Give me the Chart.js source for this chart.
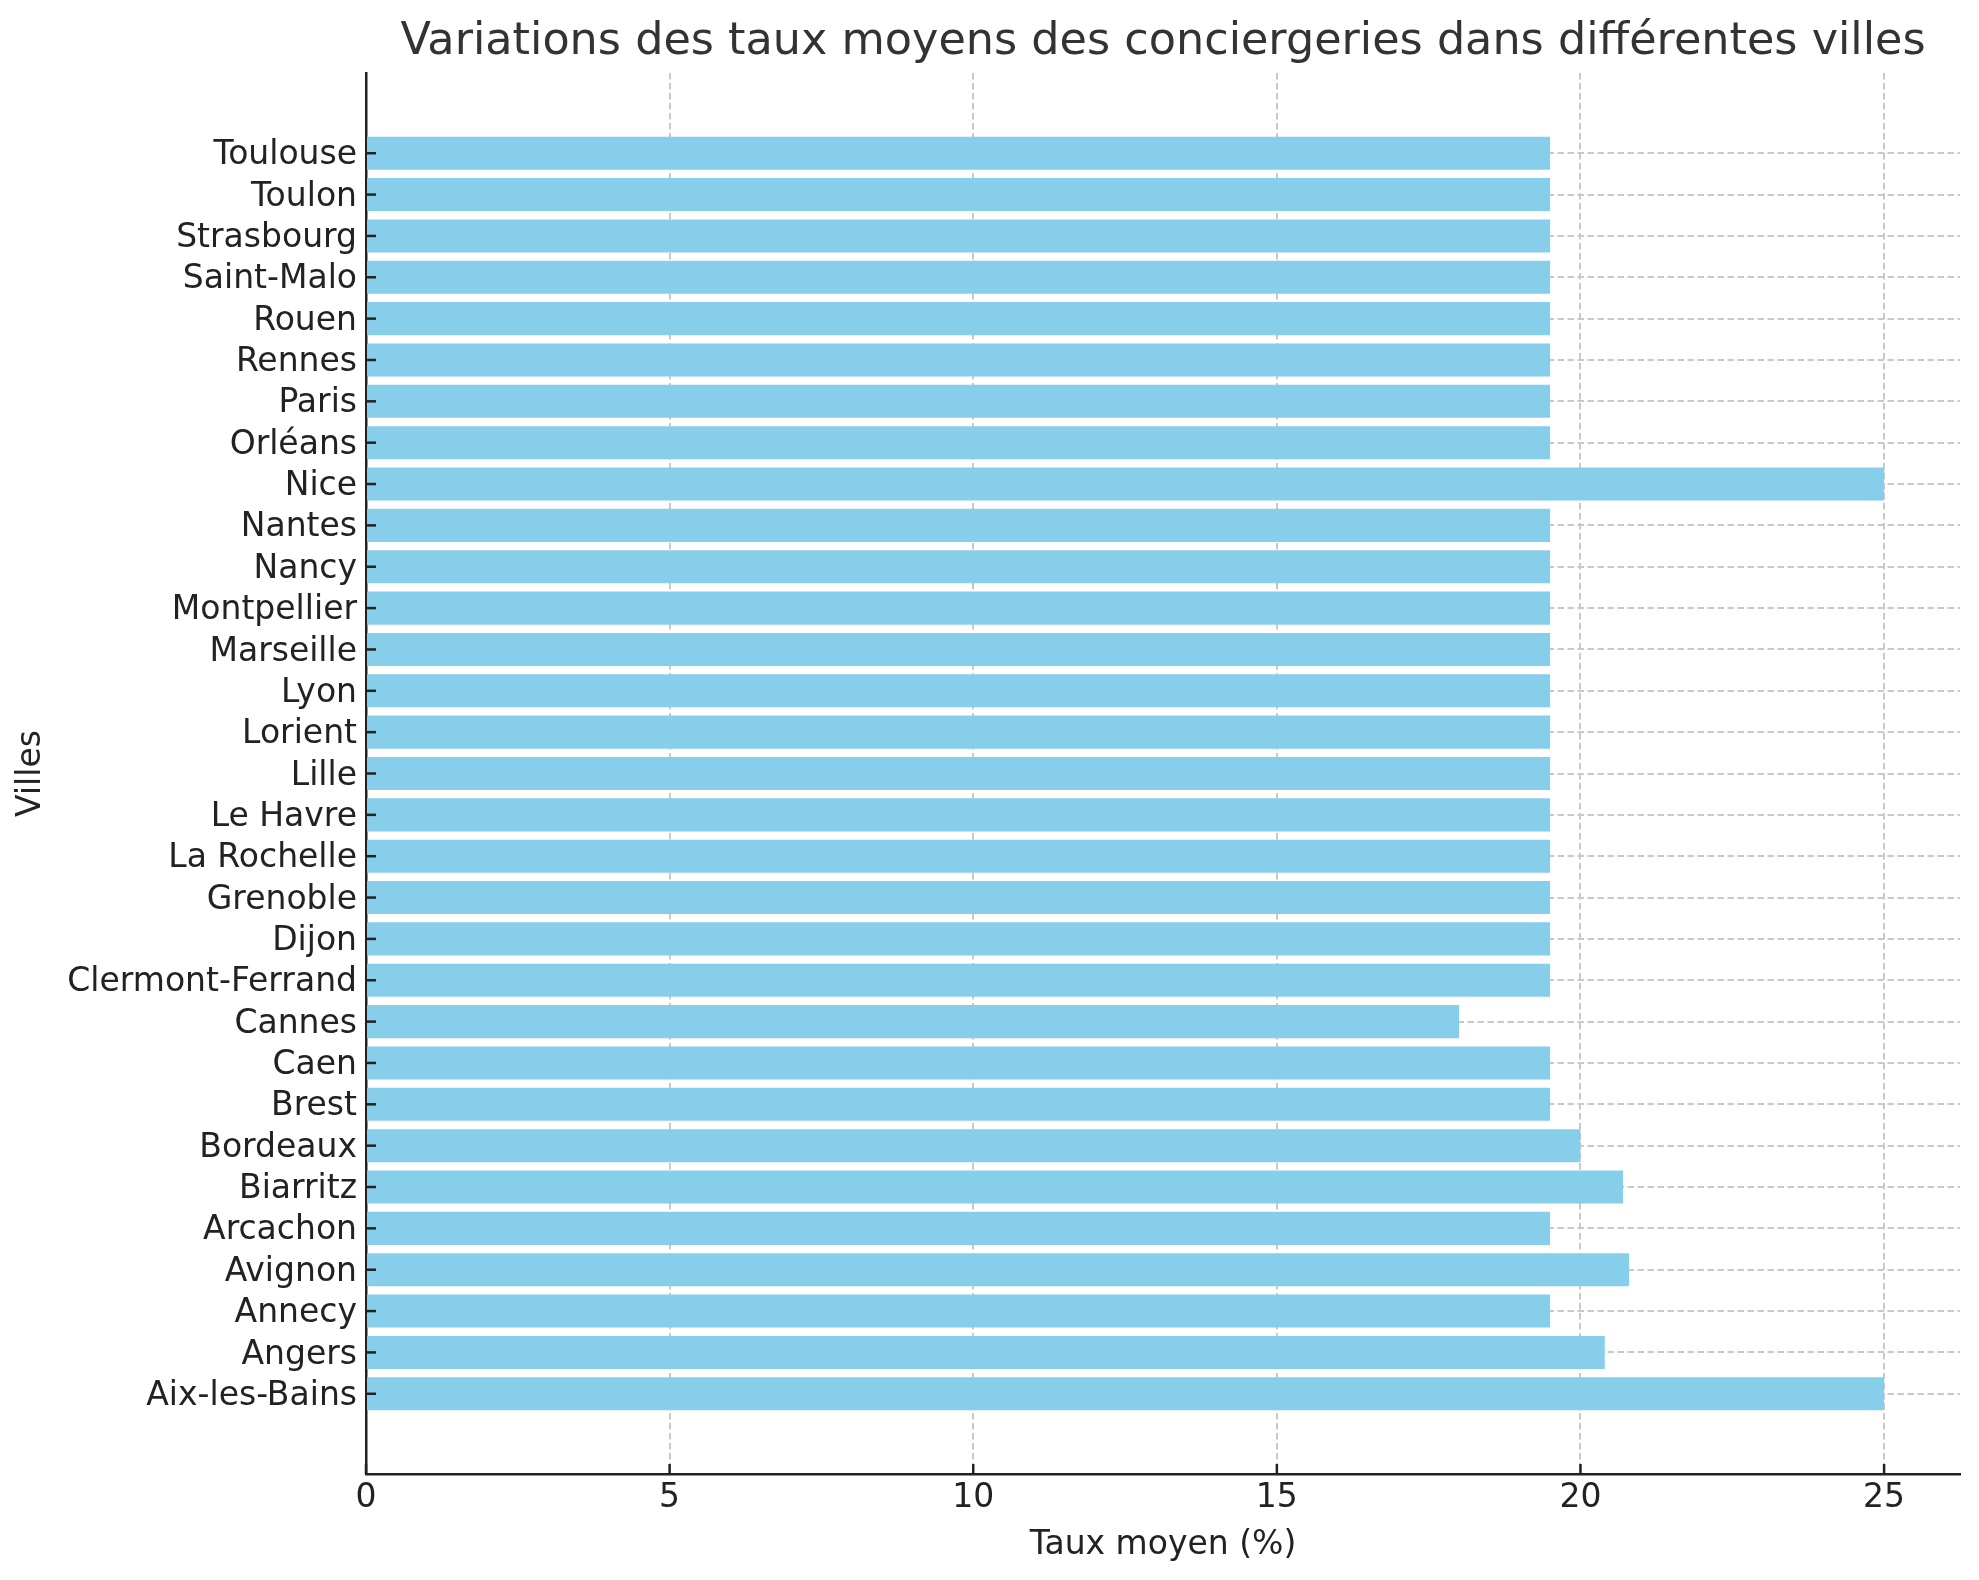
<!DOCTYPE html>
<html>
<head>
<meta charset="utf-8">
<script src="https://cdn.jsdelivr.net/npm/chart.js@4"></script>
<style>
html,body{margin:0;padding:0;background:#fff;}
canvas{display:block;}
</style>
</head>
<body>
<canvas id="c" width="1979" height="1580"></canvas>
<script>
const cities = ["Aix-les-Bains","Angers","Annecy","Avignon","Arcachon","Biarritz","Bordeaux","Brest","Caen","Cannes","Clermont-Ferrand","Dijon","Grenoble","La Rochelle","Le Havre","Lille","Lorient","Lyon","Marseille","Montpellier","Nancy","Nantes","Nice","Orléans","Paris","Rennes","Rouen","Saint-Malo","Strasbourg","Toulon","Toulouse"];
const rates = [25,20.4,19.5,20.8,19.5,20.7,20,19.5,19.5,18,19.5,19.5,19.5,19.5,19.5,19.5,19.5,19.5,19.5,19.5,19.5,19.5,25,19.5,19.5,19.5,19.5,19.5,19.5,19.5,19.5];
const xTicks = [0,5,10,15,20,25];
const titleText = "Variations des taux moyens des conciergeries dans différentes villes";
const xTitle = "Taux moyen (%)";
const yTitle = "Villes";

const FONT = "'DejaVu Sans', sans-serif";
const gridColor = '#c9c9c9';
const axisColor = '#222222';

const points = rates.map((v, i) => ({x: v, y: i}));

const titlePlugin = {
  id: 'topTitle',
  afterDraw(chart) {
    const {ctx, chartArea} = chart;
    ctx.save();
    ctx.font = "44.5px " + FONT;
    ctx.fillStyle = '#333333';
    ctx.textAlign = 'center';
    ctx.textBaseline = 'middle';
    ctx.fillText(titleText, (chartArea.left + chartArea.right) / 2, 42);
    ctx.restore();
  }
};

const innerTicks = {
  id: 'innerTicks',
  afterDraw(chart) {
    const {ctx, chartArea} = chart;
    const xs = chart.scales.x, ys = chart.scales.y;
    ctx.save();
    ctx.strokeStyle = axisColor;
    ctx.lineWidth = 2.5;
    ys.ticks.forEach(t => {
      const p = ys.getPixelForValue(t.value);
      ctx.beginPath(); ctx.moveTo(chartArea.left, p); ctx.lineTo(chartArea.left + 10, p); ctx.stroke();
    });
    xs.ticks.forEach(t => {
      const p = xs.getPixelForValue(t.value);
      ctx.beginPath(); ctx.moveTo(p, chartArea.bottom); ctx.lineTo(p, chartArea.bottom - 10); ctx.stroke();
    });
    ctx.restore();
  }
};

new Chart(document.getElementById('c'), {
  type: 'bar',
  data: {
    datasets: [{
      data: points,
      backgroundColor: '#87CEEB',
      borderWidth: 0,
      categoryPercentage: 1,
      barPercentage: 0.8
    }]
  },
  options: {
    indexAxis: 'y',
    responsive: false,
    devicePixelRatio: 1,
    animation: false,
    layout: {padding: {top: 73, right: 19, left: 0, bottom: 0}},
    plugins: {legend: {display: false}, tooltip: {enabled: false}, title: {display: false}},
    scales: {
      x: {
        type: 'linear',
        position: 'bottom',
        min: 0,
        max: 26.25,
        offset: false,
        z: 1,
        afterBuildTicks(scale) { scale.ticks = xTicks.map(v => ({value: v})); },
        afterFit(scale) { scale.height = 106; },
        grid: {color: gridColor, lineWidth: 2, drawTicks: false, offset: false},
        border: {display: true, color: axisColor, width: 2.5, dash: [6.5, 3.5]},
        ticks: {font: {family: FONT, size: 33}, color: axisColor, padding: 5, maxRotation: 0},
        title: {display: true, text: xTitle, font: {family: FONT, size: 33, lineHeight: 1.2}, color: axisColor, padding: {top: 0, bottom: 15}}
      },
      y: {
        type: 'linear',
        position: 'left',
        min: -1.94,
        max: 31.94,
        offset: false,
        z: 1,
        afterBuildTicks(scale) { scale.ticks = cities.map((c, i) => ({value: i})); },
        afterFit(scale) { scale.width = 366; },
        grid: {color: gridColor, lineWidth: 2, drawTicks: false, offset: false},
        border: {display: true, color: axisColor, width: 2.5, dash: [6.5, 3.5]},
        ticks: {font: {family: FONT, size: 33}, color: axisColor, padding: 9, autoSkip: false, labelOffset: 2.5,
          callback: (v) => cities[v]},
        title: {display: true, text: yTitle, font: {family: FONT, size: 33, lineHeight: 1.2}, color: axisColor, padding: {top: 12, bottom: 0}}
      }
    }
  },
  plugins: [titlePlugin, innerTicks]
});
</script>
</body>
</html>
